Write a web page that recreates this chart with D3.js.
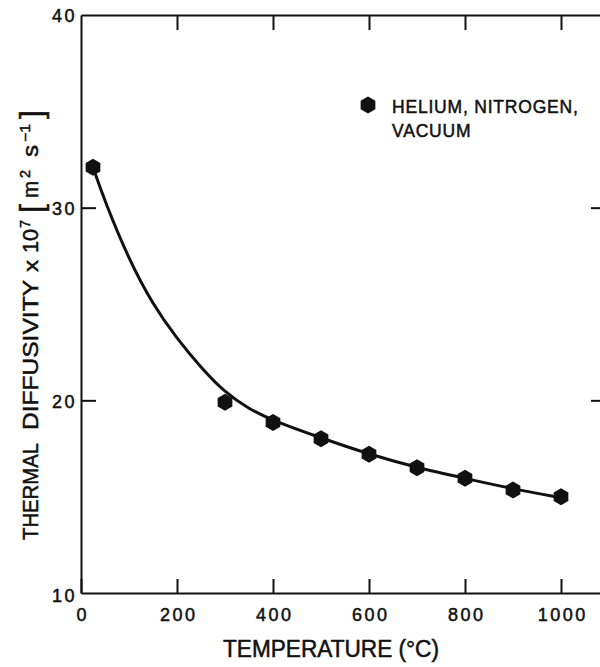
<!DOCTYPE html>
<html>
<head>
<meta charset="utf-8">
<script src="https://cdn.jsdelivr.net/npm/d3@7"></script>
<style>
  body { margin: 0; background: #fff; }
  text { font-family: "Liberation Sans", Arial, sans-serif; fill: #111; stroke: #111; stroke-width: 0.5px; }
</style>
</head>
<body>
<svg id="chart" width="600" height="667"></svg>
<script>
// measured points
let temps = [25, 300, 400, 500, 600, 700, 800, 900, 1000];
let diffusivity = [32.1, 19.9, 18.85, 18.0, 17.2, 16.5, 15.95, 15.35, 15.0];

// fitted curve
let curveTemps = [25, 50, 100, 150, 200, 250, 300, 350, 400, 500, 600, 700, 800, 900, 1000];
let curveValues = [32.1, 30.3, 27.3, 24.95, 23.2, 21.7, 20.4, 19.55, 18.95, 18.05, 17.2, 16.5, 15.95, 15.4, 14.95];

let xTicks = [0, 200, 400, 600, 800, 1000];
let yTicks = [10, 20, 30, 40];
let legendLines = ["HELIUM, NITROGEN,", "VACUUM"];

const svg = d3.select("#chart");

const x = d3.scaleLinear().domain([0, 1100]).range([81, 609]);
const y = d3.scaleLinear().domain([10, 40]).range([593, 15]);

function styleAxis(g) {
  g.selectAll(".domain").attr("stroke", "#111").attr("stroke-width", 2);
  g.selectAll(".tick line").attr("stroke", "#111").attr("stroke-width", 2);
  g.selectAll(".tick text")
    .style("font-family", "Liberation Sans, Arial, sans-serif")
    .style("font-size", "18px")
    .style("letter-spacing", "2.5px")
    .attr("fill", "#111");
}

// bottom axis
svg.append("g")
  .attr("transform", "translate(0,593)")
  .call(d3.axisBottom(x).tickValues(xTicks).tickSizeInner(-14).tickSizeOuter(0).tickFormat(d3.format("d")))
  .call(styleAxis)
  .call(g => g.selectAll(".tick text").attr("y", 15).attr("dx", "1.2px"));

// left axis
svg.append("g")
  .attr("transform", "translate(81,0)")
  .call(d3.axisLeft(y).tickValues(yTicks).tickSizeInner(-15).tickSizeOuter(0))
  .call(styleAxis)
  .call(g => g.selectAll(".tick text").attr("x", -4).attr("dy", "0.38em"))
  .call(g => g.selectAll(".tick").filter(d => d === 10 || d === 40).select("line").remove())
  .call(g => g.selectAll(".tick").filter(d => d === 10).select("text").attr("dy", "0.45em"));

// top axis
svg.append("g")
  .attr("transform", "translate(0,15)")
  .call(d3.axisTop(x).tickValues(xTicks.slice(1)).tickSizeInner(-15).tickSizeOuter(0).tickFormat(""))
  .call(styleAxis);

// right axis
svg.append("g")
  .attr("transform", "translate(609,0)")
  .call(d3.axisRight(y).tickValues([20, 30]).tickSizeInner(-18).tickSizeOuter(0).tickFormat(""))
  .call(styleAxis);

// fitted curve
const curvePoints = curveTemps.map((t, i) => [t, curveValues[i]]);
svg.append("path")
  .datum(curvePoints)
  .attr("fill", "none")
  .attr("stroke", "#111")
  .attr("stroke-width", 3)
  .attr("d", d3.line().x(d => x(d[0])).y(d => y(d[1])).curve(d3.curveBasis));

// hexagon markers
function hexPath(r) {
  let pts = [];
  for (let k = 0; k < 6; k++) {
    let a = Math.PI / 3 * k - Math.PI / 2;
    pts.push([r * Math.cos(a), r * Math.sin(a)]);
  }
  return "M" + pts.map(p => p.join(",")).join("L") + "Z";
}

svg.append("g")
  .selectAll("path")
  .data(temps.map((t, i) => ({ t: t, v: diffusivity[i] })))
  .enter()
  .append("path")
  .attr("d", hexPath(8.5))
  .attr("transform", d => "translate(" + x(d.t) + "," + y(d.v) + ")")
  .attr("fill", "#111");

// legend
svg.append("path")
  .attr("d", hexPath(8.5))
  .attr("transform", "translate(368,105)")
  .attr("fill", "#111");

svg.append("g")
  .selectAll("text")
  .data(legendLines)
  .enter()
  .append("text")
  .attr("x", 392)
  .attr("y", (d, i) => 113 + i * 24)
  .style("font-size", "17.5px")
  .style("letter-spacing", "0.8px")
  .text(d => d);

// x axis title
svg.append("text")
  .attr("x", 223)
  .attr("y", 657)
  .attr("textLength", 216)
  .attr("lengthAdjust", "spacingAndGlyphs")
  .style("font-size", "23px")
  .text("TEMPERATURE (°C)");

// y axis title, placed piece by piece along the rotated axis
let yTitleParts = [
  { s: "THERMAL", at: 540, len: 97, size: 22, shift: 0 },
  { s: "DIFFUSIVITY", at: 430, len: 150, size: 22, shift: 0 },
  { s: "x", at: 272, len: 12, size: 20, shift: 0 },
  { s: "10", at: 253, len: 24, size: 22, shift: 0 },
  { s: "7", at: 228, len: 8, size: 14, shift: -8 },
  { s: "[", at: 213, len: 9, size: 32, shift: 4 },
  { s: "m", at: 198, len: 17, size: 22, shift: 0 },
  { s: "2", at: 178, len: 8, size: 14, shift: -8 },
  { s: "s", at: 157, len: 12, size: 22, shift: 0 },
  { s: "−1", at: 142, len: 18, size: 14, shift: -8 },
  { s: "]", at: 119, len: 9, size: 32, shift: 4 }
];

svg.append("g")
  .attr("transform", "translate(38,0) rotate(-90)")
  .selectAll("text")
  .data(yTitleParts)
  .enter()
  .append("text")
  .attr("x", d => -d.at)
  .attr("y", d => d.shift)
  .attr("textLength", d => d.len)
  .attr("lengthAdjust", "spacingAndGlyphs")
  .style("font-size", d => d.size + "px")
  .text(d => d.s);
</script>
</body>
</html>
